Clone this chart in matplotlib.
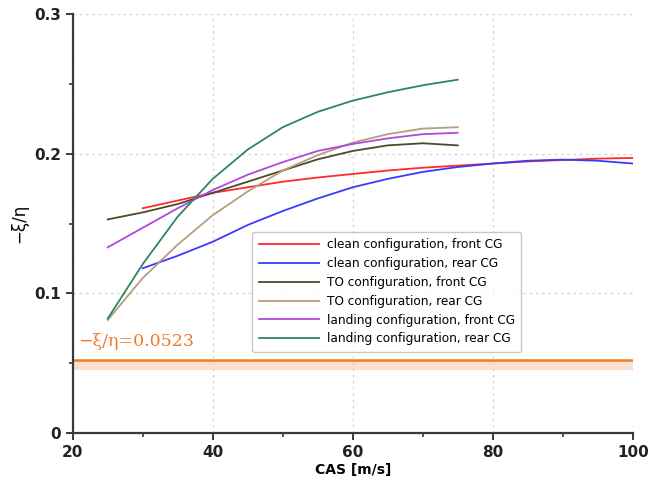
import matplotlib
matplotlib.use('Agg')
from matplotlib import pyplot as plt
from matplotlib.ticker import MultipleLocator

# clean configuration
cas_clean = [30, 35, 40, 45, 50, 55, 60, 65, 70, 75, 80, 85, 90, 95, 100]
clean_front = [0.161, 0.1665, 0.172, 0.176, 0.180, 0.183, 0.1855, 0.188, 0.190, 0.1915,
               0.193, 0.1945, 0.1955, 0.1965, 0.197]
clean_rear = [0.118, 0.127, 0.137, 0.149, 0.159, 0.168, 0.176, 0.182, 0.187, 0.1905,
              0.193, 0.195, 0.1958, 0.195, 0.193]

# TO / landing configurations
cas_low = [25, 30, 35, 40, 45, 50, 55, 60, 65, 70, 75]
to_front = [0.153, 0.158, 0.164, 0.172, 0.180, 0.188, 0.196, 0.202, 0.206, 0.2075, 0.206]
to_rear = [0.081, 0.111, 0.135, 0.156, 0.173, 0.188, 0.199, 0.208, 0.214, 0.218, 0.219]
land_front = [0.133, 0.147, 0.161, 0.174, 0.185, 0.194, 0.202, 0.207, 0.211, 0.214, 0.215]
land_rear = [0.082, 0.121, 0.155, 0.182, 0.203, 0.219, 0.230, 0.238, 0.244, 0.249, 0.253]

limit = 0.0523
band_low = 0.045

labels = ['clean configuration, front CG', 'clean configuration, rear CG',
          'TO configuration, front CG', 'TO configuration, rear CG',
          'landing configuration, front CG', 'landing configuration, rear CG']
colors = ['#ff2a2a', '#3a3aff', '#4a4a2e', '#b89c7e', '#b048e0', '#2e8466']

fig = plt.figure(figsize=(6.55, 4.84), dpi=100)
ax = fig.add_axes([0.111, 0.105, 0.855, 0.866])

series = [(cas_clean, clean_front), (cas_clean, clean_rear),
          (cas_low, to_front), (cas_low, to_rear),
          (cas_low, land_front), (cas_low, land_rear)]
for (x, y), lab, c in zip(series, labels, colors):
    ax.plot(x, y, color=c, lw=1.3, label=lab)

# limit line with shaded band
ax.axhspan(band_low, limit, color='#fcd9c2', alpha=0.8, lw=0)
ax.axhline(limit, color='#f07a2a', lw=1.8)
ax.text(20.8, 0.0625, '\u2212\u03be/\u03b7=0.0523', color='#f07a2a',
        fontsize=12.5, family='DejaVu Serif')

ax.set_xlim(20, 100)
ax.set_ylim(0, 0.3)
ax.xaxis.set_major_locator(MultipleLocator(20))
ax.xaxis.set_minor_locator(MultipleLocator(10))
ax.yaxis.set_minor_locator(MultipleLocator(0.05))
ax.set_yticks([0, 0.1, 0.2, 0.3])
ax.set_yticklabels(['0', '0.1', '0.2', '0.3'])

ax.grid(True, which='major', color='#d2d2d2', ls=(0, (2, 3)), lw=0.9)
for s in ['top', 'right']:
    ax.spines[s].set_visible(False)
for s in ['left', 'bottom']:
    ax.spines[s].set_color('#3a3a3a')
    ax.spines[s].set_linewidth(1.6)
ax.tick_params(which='major', length=5, width=1.4, color='#3a3a3a')
ax.tick_params(which='minor', length=3, width=1.2, color='#3a3a3a')
for t in ax.get_xticklabels() + ax.get_yticklabels():
    t.set_fontweight('bold')
    t.set_fontsize(11)
    t.set_color('#222222')

ax.set_xlabel('CAS [m/s]', fontweight='bold', fontsize=10, labelpad=2)
ax.set_ylabel('\u2212\u03be/\u03b7', fontsize=12)

leg = ax.legend(loc='upper left', bbox_to_anchor=(0.31, 0.495), fontsize=8.7,
                frameon=True, fancybox=True, edgecolor='#bbbbbb',
                handlelength=5.0, labelspacing=0.48, borderpad=0.55,
                handletextpad=0.6)
leg.get_frame().set_linewidth(1.0)

plt.savefig('out.png', dpi=100)
